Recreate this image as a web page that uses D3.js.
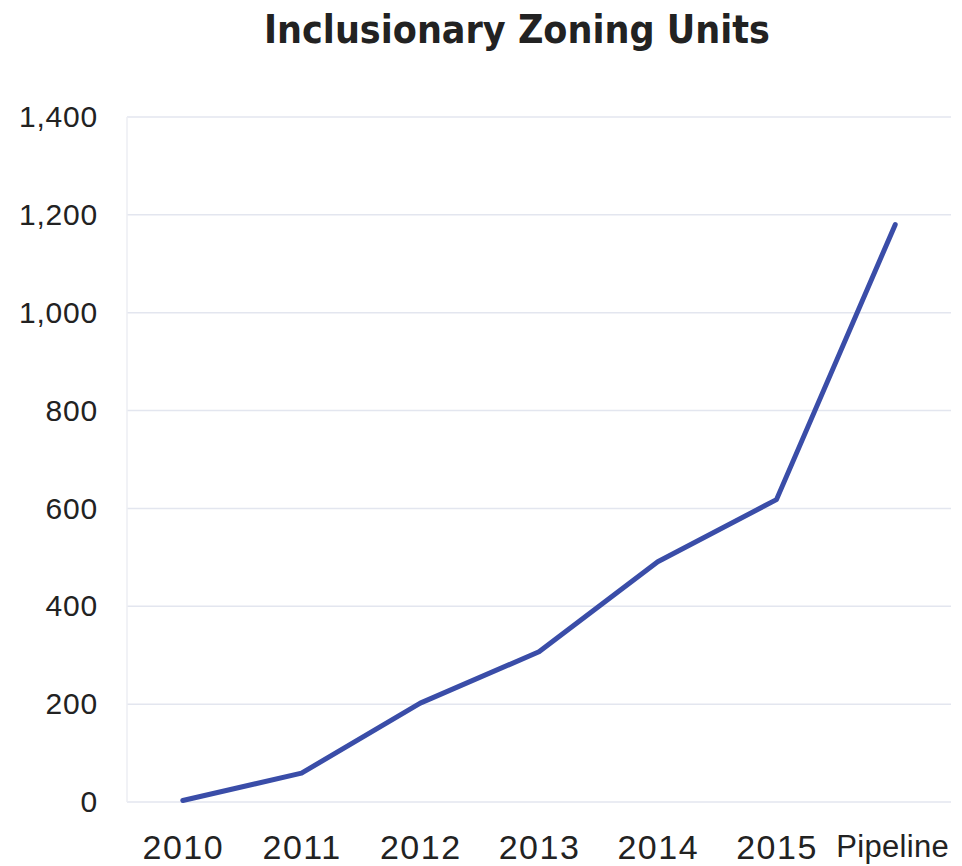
<!DOCTYPE html>
<html>
<head>
<meta charset="utf-8">
<script src="https://cdn.jsdelivr.net/npm/d3@7"></script>
<style>
  body { margin: 0; background: #fff; }
  text { font-family: "Liberation Sans", Arial, sans-serif; fill: #222; }
  .title { font-family: "DejaVu Sans Condensed", "DejaVu Sans", sans-serif; font-stretch: condensed; }
</style>
</head>
<body>
<script>
// chart data
const categories = ["2010", "2011", "2012", "2013", "2014", "2015", "Pipeline"];
const units = [3, 59, 202, 307, 491, 618, 1180];
const yTicks = [0, 200, 400, 600, 800, 1000, 1200, 1400];
const title = "Inclusionary Zoning Units";

const width = 962, height = 866;
const margin = { top: 117, right: 11, bottom: 64, left: 127 };

const svg = d3.select("body")
              .append("svg")
              .attr("width", width)
              .attr("height", height);

const x = d3.scalePoint()
            .domain(categories)
            .range([margin.left, width - margin.right])
            .padding(0.47);

const y = d3.scaleLinear()
            .domain([0, 1400])
            .range([height - margin.bottom, margin.top]);

// gridlines
svg.append("g")
   .selectAll("line")
   .data(yTicks)
   .enter()
   .append("line")
   .attr("x1", margin.left)
   .attr("x2", width - margin.right)
   .attr("y1", d => y(d))
   .attr("y2", d => y(d))
   .attr("stroke", "#e3e6ef")
   .attr("stroke-width", 1.5);

// faint left border of plot area
svg.append("line")
   .attr("x1", margin.left)
   .attr("x2", margin.left)
   .attr("y1", y(1400))
   .attr("y2", y(0))
   .attr("stroke", "#eceef3")
   .attr("stroke-width", 1.5);

// y axis labels
const yAxis = d3.axisLeft(y)
                .tickValues(yTicks)
                .tickFormat(d3.format(","))
                .tickSize(0)
                .tickPadding(29);

svg.append("g")
   .attr("transform", "translate(" + margin.left + ",0)")
   .call(yAxis)
   .call(g => g.select(".domain").remove())
   .selectAll("text")
   .style("font-size", "30px")
   .style("letter-spacing", "0.8px")
   .attr("fill", "#222");

// x axis labels
const xAxis = d3.axisBottom(x).tickSize(0).tickPadding(33);

svg.append("g")
   .attr("transform", "translate(0," + y(0) + ")")
   .call(xAxis)
   .call(g => g.select(".domain").remove())
   .selectAll("text")
   .style("font-size", d => d === "Pipeline" ? "31px" : "34px")
   .style("letter-spacing", d => d === "Pipeline" ? "0.3px" : "1.5px")
   .attr("dx", d => d === "Pipeline" ? -3 : 0)
   .attr("fill", "#222");

// the line
const line = d3.line()
               .x((d, i) => x(categories[i]))
               .y(d => y(d));

svg.append("path")
   .datum(units)
   .attr("d", line)
   .attr("fill", "none")
   .attr("stroke", "#3a4da8")
   .attr("stroke-width", 5)
   .attr("stroke-linejoin", "round")
   .attr("stroke-linecap", "round");

// title
svg.append("text")
   .attr("class", "title")
   .attr("x", 517)
   .attr("y", 43)
   .attr("text-anchor", "middle")
   .style("font-size", "39px")
   .style("font-weight", "bold")
   .text(title);
</script>
</body>
</html>
